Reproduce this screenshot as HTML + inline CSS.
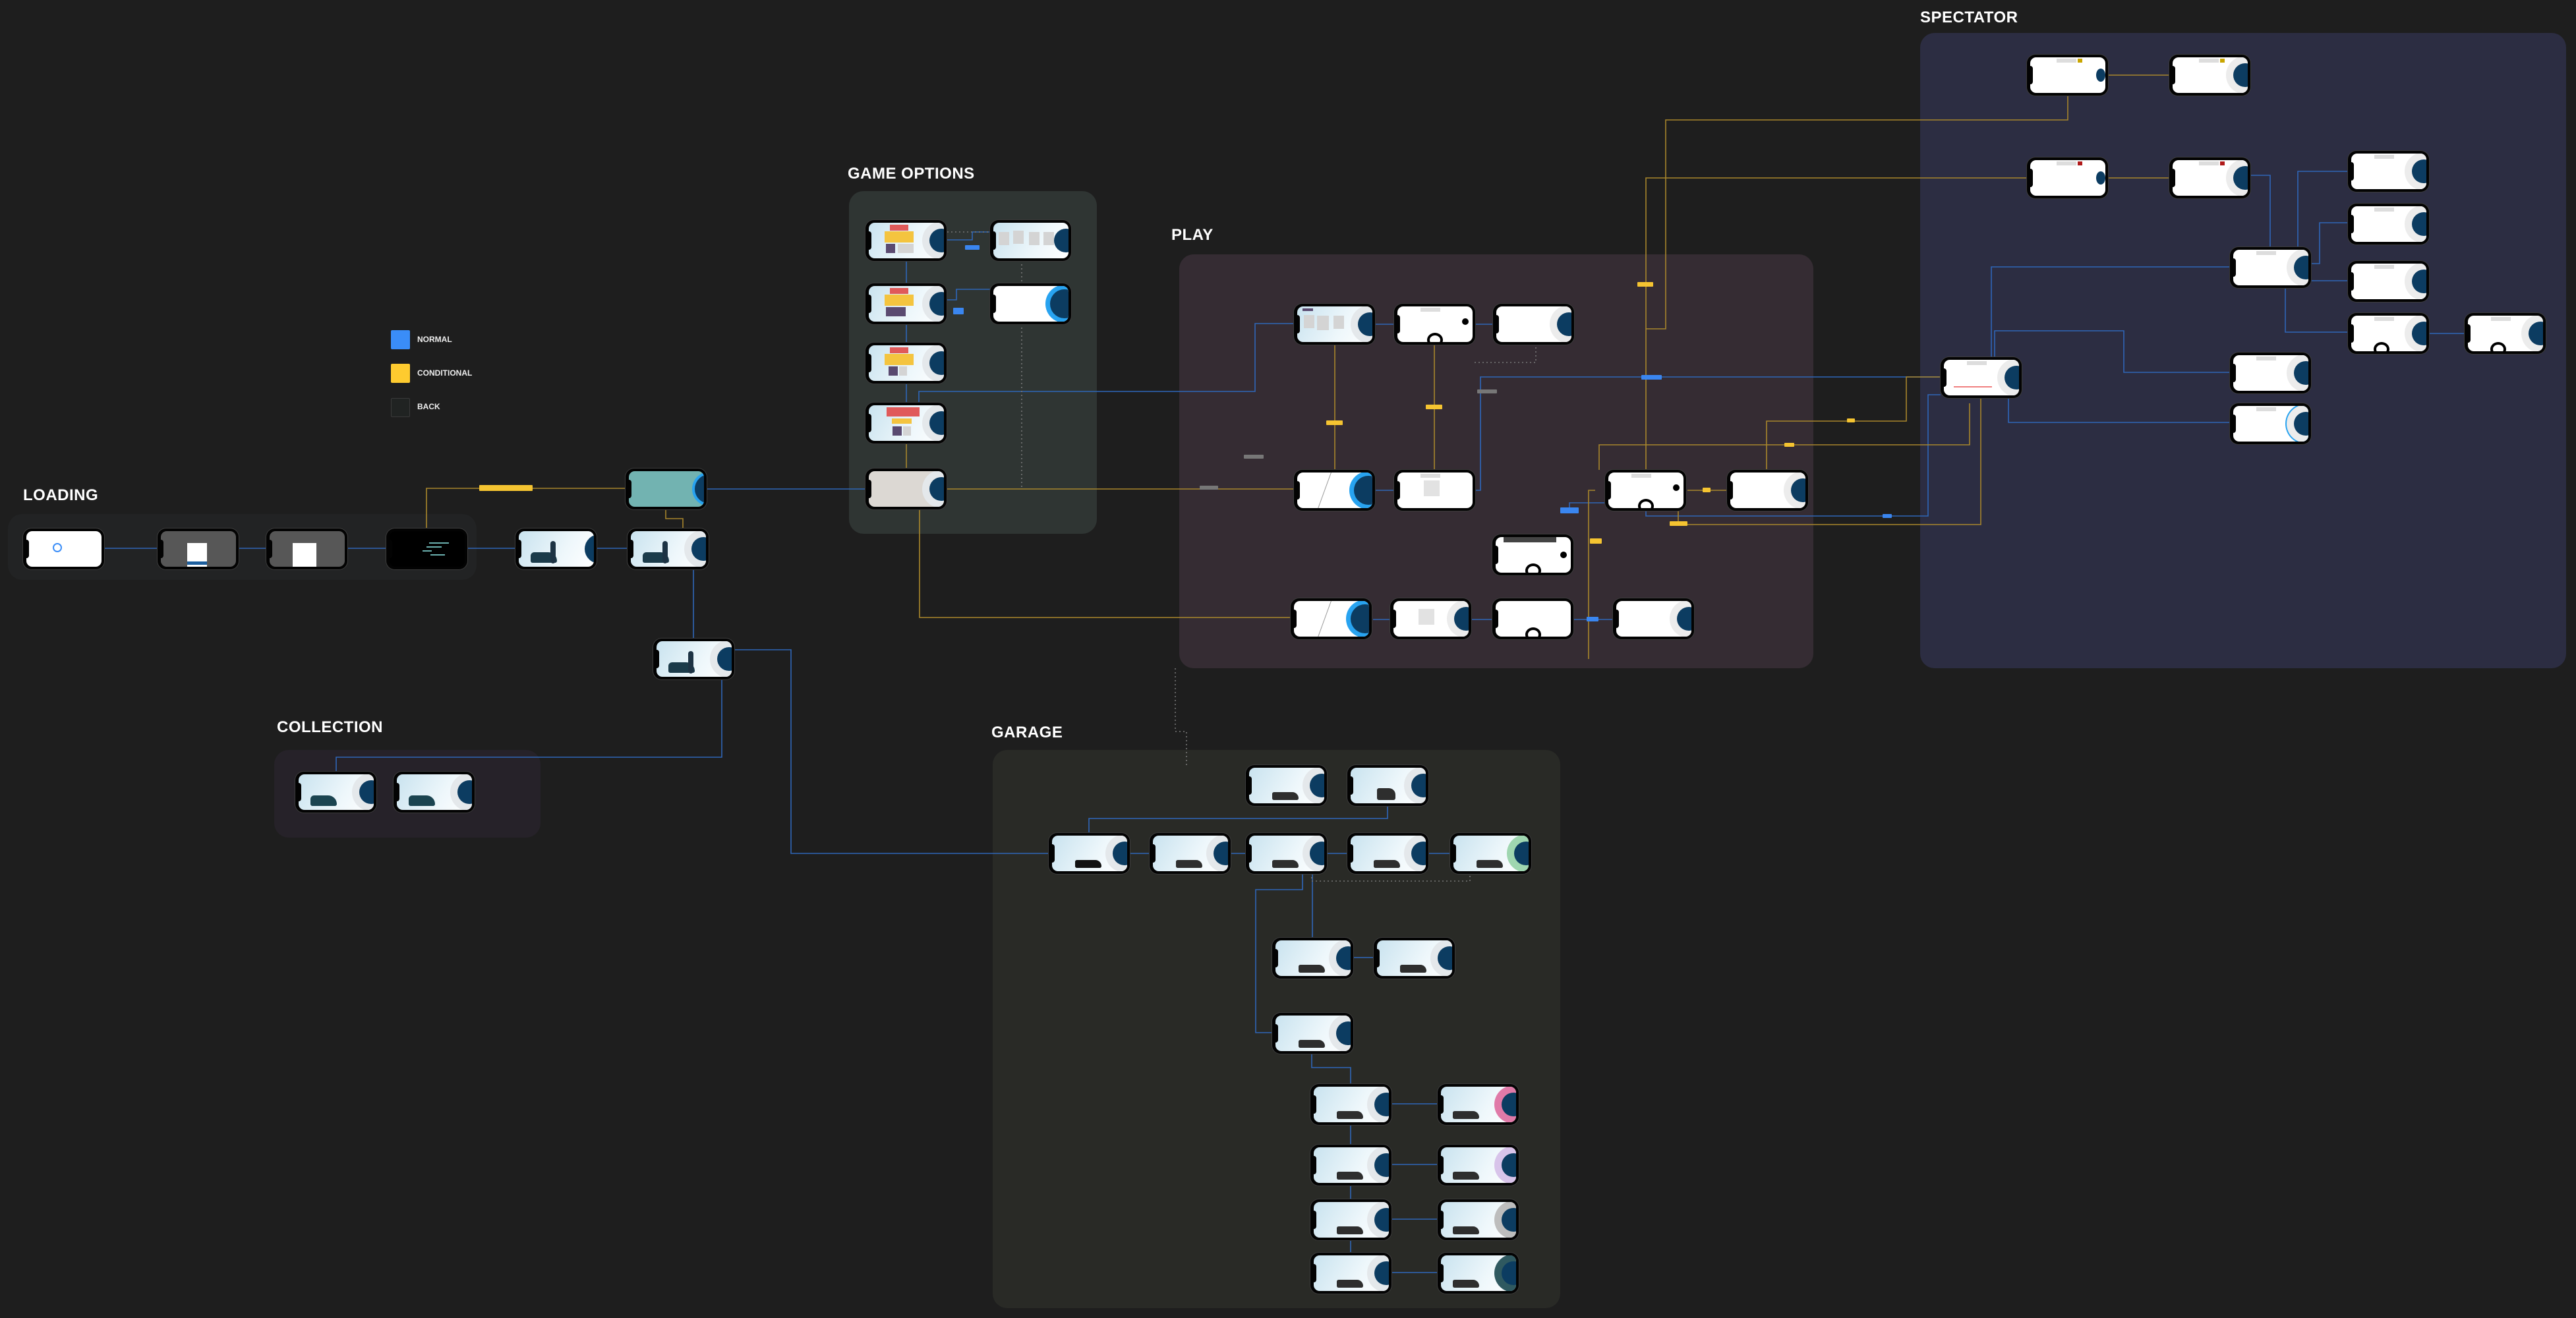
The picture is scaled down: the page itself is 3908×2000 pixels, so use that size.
<!DOCTYPE html>
<html><head><meta charset="utf-8">
<style>
*{margin:0;padding:0;box-sizing:border-box}
html,body{width:3908px;height:2000px;background:#1e1e1e;overflow:hidden;font-family:"Liberation Sans",sans-serif}
.grp{position:absolute;border-radius:22px}
.ttl{position:absolute;color:#fff;font-weight:bold;font-size:24px;letter-spacing:0.5px}
.p{position:absolute;width:123px;height:62px;background:#030303;border-radius:13px;box-shadow:0 0 0 1px #3c3c3c;z-index:3}
.p .s{position:absolute;left:5px;top:4px;right:4px;bottom:4px;border-radius:9px;background:#fff;overflow:hidden}
.p .n{position:absolute;left:4px;top:17px;width:5px;height:28px;background:#030303;border-radius:0 4px 4px 0;z-index:2}
.lb{background:linear-gradient(120deg,#c9e3ef,#eef7fb 60%,#fff)!important}
.g{background:#575757!important}.k{background:#000!important}.t{background:#72b3b1!important}.bg{background:#dcd8d3!important}
.d{position:absolute;right:-14px;top:50%;width:36px;height:36px;margin-top:-18px;border-radius:50%;background:#0c3c61;box-shadow:0 0 0 11px #e4e8eb}
.bc{position:absolute;right:-16px;top:50%;width:44px;height:44px;margin-top:-22px;border-radius:50%;background:#0c3c61;box-shadow:0 0 0 7px #28a3f0}
.eye{position:absolute;left:50%;bottom:-8px;width:24px;height:22px;margin-left:-12px;border-radius:50%;border:4px solid #000;background:#fff}
.fig{position:absolute;left:18px;bottom:6px;width:40px;height:16px;background:#1b3b4a;border-radius:6px 14px 3px 3px}
.fig2{position:absolute;left:48px;bottom:5px;width:8px;height:34px;background:#1d3344;border-radius:4px}
.car{position:absolute;left:35px;bottom:5px;width:40px;height:12px;background:#2e2e2e;border-radius:3px 10px 3px 3px}
.red{position:absolute;left:32px;top:3px;width:28px;height:9px;background:#e05a5a}
.yel{position:absolute;left:24px;top:13px;width:44px;height:17px;background:#f4c43f}
.pur{position:absolute;left:26px;top:32px;width:14px;height:14px;background:#5a4a70}
.gry{position:absolute;left:44px;top:32px;width:24px;height:14px;background:#d4d4d4}
.card{position:absolute;left:40px;top:18px;width:30px;height:36px;background:#fff}
.tab{position:absolute;left:35px;top:2px;width:30px;height:6px;background:#ddd}
.ln{position:absolute;height:2px;background:#6ab0ae}
.lab{position:absolute;height:9px;font-size:4px;color:#fff;line-height:9px;text-align:center;border-radius:1px;z-index:4}
.ly{background:#f5c431}.lbl{background:#3a86f0}.lg{background:#777}
.leg{position:absolute;width:29px;height:29px;border-radius:2px}
.legt{position:absolute;color:#eee;font-weight:bold;font-size:12px}
svg{position:absolute;left:0;top:0;z-index:2}
</style></head><body>

<!-- groups -->
<div class="grp" style="left:12px;top:780px;width:711px;height:100px;background:#222324"></div>
<div class="grp" style="left:1288px;top:290px;width:376px;height:520px;background:#2f3533"></div>
<div class="grp" style="left:1789px;top:386px;width:962px;height:628px;background:#352c33"></div>
<div class="grp" style="left:2913px;top:50px;width:980px;height:964px;background:#2c2d42"></div>
<div class="grp" style="left:1506px;top:1138px;width:861px;height:847px;background:#292a26"></div>
<div class="grp" style="left:416px;top:1138px;width:404px;height:133px;background:#262229"></div>

<div class="ttl" style="left:35px;top:738px">LOADING</div>
<div class="ttl" style="left:1286px;top:250px">GAME OPTIONS</div>
<div class="ttl" style="left:1777px;top:343px">PLAY</div>
<div class="ttl" style="left:2913px;top:13px">SPECTATOR</div>
<div class="ttl" style="left:1504px;top:1098px">GARAGE</div>
<div class="ttl" style="left:420px;top:1090px">COLLECTION</div>

<div class="leg" style="left:593px;top:501px;background:#3a8df8"></div><div class="legt" style="left:633px;top:508px">NORMAL</div>
<div class="leg" style="left:593px;top:552px;background:#fecb2f"></div><div class="legt" style="left:633px;top:559px">CONDITIONAL</div>
<div class="leg" style="left:593px;top:604px;background:#202322;border:1px solid #3a3a3a"></div><div class="legt" style="left:633px;top:610px">BACK</div>

<svg width="3908" height="2000" fill="none" stroke-width="1.6">
<g stroke="#2f66b8">
<path d="M157 832H239M361 832H404M526 832H586M708 832H782M904 832H952"/>
<path d="M1072 742H1313M1052 864V969"/>
<path d="M1375 396V430M1375 491V520M1375 580V611"/>
<path d="M1437 364H1475V352H1502M1367 455H1451V439H1502"/>
<path d="M1394 627V594H1904V491H1963"/>
<path d="M2087 492H2115M2237 492H2265M2087 744H2115M2083 940H2111M2233 940H2265M2387 940H2450"/>
<path d="M2237 744H2246V572H2944"/>
<path d="M2497 775V783H2925V599H2944"/>
<path d="M2440 763H2381V775"/>
<path d="M3047 604V641H3383"/>
<path d="M3021 604V405H3383M3026 579V502H3222V565H3383"/>
<path d="M3391 266H3444V375M3480 390H3486V260H3562M3497 400H3519V338H3562M3494 426H3562M3480 412H3467V504H3562M3685 506H3739"/>
<path d="M1097 986H1200V1295H1591M1095 1027V1149H510V1171"/>
<path d="M2105 1222V1242H1652V1264M1715 1295H1744M1866 1295H1890M2013 1295H2044M2167 1295H2200"/>
<path d="M1991 1325V1423M1976 1325V1350H1905V1567H1930M2052 1453H2084M1990 1599V1620H2049V1645"/>
<path d="M2049 1707V1737M2049 1799V1820M2049 1882V1901M2111 1675H2181M2111 1767H2181M2111 1850H2181M2111 1931H2181"/>
</g>
<g stroke="#a8862c">
<path d="M647 802V741H949M1010 773V787H1036V802"/>
<path d="M1375 673V711M1437 742H1963M1395 742V937H1961"/>
<path d="M2025 523V713M2176 523V713"/>
<path d="M2560 744H2620"/>
<path d="M2497 713V270H3075M2497 499H2527V182H3137V145"/>
<path d="M2680 713V639H2892V572H2944"/>
<path d="M2426 713V675H2988V612"/>
<path d="M2546 775V796H3005V604"/>
<path d="M2420 744H2410V1000"/>
<path d="M3198 114H3291M3198 270H3291"/>
</g>
<g stroke="#777" stroke-dasharray="2 4">
<path d="M1437 352H1550V742M2237 550H2330V490M1783 1014V1110H1800V1161M2241 1110H2241"/>
<path d="M1990 1325V1337H2230V1325"/>
</g>
</svg>

<div class="lab ly" style="left:727px;top:736px;width:81px"></div>
<div class="lab lbl" style="left:1464px;top:372px;width:22px;height:7px"></div>
<div class="lab lbl" style="left:1446px;top:467px;width:16px;height:10px"></div>
<div class="lab lg" style="left:1820px;top:737px;width:28px;height:6px"></div>
<div class="lab lg" style="left:1887px;top:690px;width:30px;height:6px"></div>
<div class="lab lg" style="left:2241px;top:591px;width:30px;height:6px"></div>
<div class="lab ly" style="left:2012px;top:638px;width:25px;height:7px"></div>
<div class="lab ly" style="left:2163px;top:614px;width:25px;height:7px"></div>
<div class="lab lbl" style="left:2490px;top:569px;width:31px;height:7px"></div>
<div class="lab ly" style="left:2484px;top:428px;width:24px;height:7px"></div>
<div class="lab ly" style="left:2707px;top:672px;width:15px;height:6px"></div>
<div class="lab ly" style="left:2802px;top:635px;width:12px;height:6px"></div>
<div class="lab ly" style="left:2583px;top:740px;width:12px;height:7px"></div>
<div class="lab lbl" style="left:2367px;top:770px;width:28px;height:9px"></div>
<div class="lab ly" style="left:2533px;top:791px;width:27px;height:7px"></div>
<div class="lab lbl" style="left:2856px;top:780px;width:14px;height:6px"></div>
<div class="lab ly" style="left:2412px;top:817px;width:18px;height:8px"></div>
<div class="lab lbl" style="left:2407px;top:936px;width:18px;height:7px"></div>

<!-- LOADING -->
<div class="p" style="left:35px;top:802px"><i class="s"><b style="position:absolute;left:40px;top:18px;width:14px;height:14px;border:2px solid #3a8df8;border-radius:50%"></b></i><i class="n"></i></div>
<div class="p" style="left:239px;top:802px"><i class="s g"><b class="card"></b><b style="position:absolute;left:40px;top:46px;width:30px;height:5px;background:#1d5f9e"></b></i><i class="n"></i></div>
<div class="p" style="left:404px;top:802px"><i class="s g"><b class="card" style="left:35px;width:36px"></b></i><i class="n"></i></div>
<div class="p" style="left:586px;top:802px"><i class="s k"><b class="ln" style="left:60px;top:17px;width:30px"></b><b class="ln" style="left:56px;top:23px;width:23px"></b><b class="ln" style="left:50px;top:29px;width:14px"></b><b class="ln" style="left:62px;top:35px;width:22px"></b></i><i class="n"></i></div>
<div class="p" style="left:782px;top:802px"><i class="s lb"><b class="fig"></b><b class="fig2"></b><b class="bc" style="box-shadow:none;right:-30px"></b></i><i class="n"></i></div>
<div class="p" style="left:952px;top:802px"><i class="s lb"><b class="fig"></b><b class="fig2"></b><b class="d"></b></i><i class="n"></i></div>
<div class="p" style="left:949px;top:711px"><i class="s t"><b class="bc" style="box-shadow:0 0 0 4px #28a3f0;right:-30px"></b></i><i class="n"></i></div>
<div class="p" style="left:991px;top:969px"><i class="s lb"><b class="fig"></b><b class="fig2"></b><b class="d"></b></i><i class="n"></i></div>

<!-- GAME OPTIONS -->
<div class="p" style="left:1313px;top:334px"><i class="s lb"><b class="red"></b><b class="yel"></b><b class="pur"></b><b class="gry"></b><b class="d"></b></i><i class="n"></i></div>
<div class="p" style="left:1313px;top:430px"><i class="s lb"><b class="red"></b><b class="yel"></b><b class="pur" style="width:30px"></b><b class="d"></b></i><i class="n"></i></div>
<div class="p" style="left:1313px;top:520px"><i class="s lb"><b class="red"></b><b class="yel"></b><b class="pur" style="left:30px"></b><b class="gry" style="left:46px;width:12px"></b><b class="d"></b></i><i class="n"></i></div>
<div class="p" style="left:1313px;top:611px"><i class="s lb"><b class="red" style="left:27px;width:50px;height:14px"></b><b class="yel" style="left:35px;top:20px;width:30px;height:8px"></b><b class="pur" style="left:36px"></b><b class="gry" style="left:52px;width:12px"></b><b class="d"></b></i><i class="n"></i></div>
<div class="p" style="left:1313px;top:711px"><i class="s bg"><b class="d"></b></i><i class="n"></i></div>
<div class="p" style="left:1502px;top:334px"><i class="s lb"><b class="gry" style="left:8px;top:14px;width:16px;height:20px"></b><b class="gry" style="left:30px;top:12px;width:16px;height:20px"></b><b class="gry" style="left:54px;top:14px;width:16px;height:20px"></b><b class="gry" style="left:76px;top:14px;width:16px;height:20px"></b><b class="d" style="box-shadow:none"></b></i><i class="n"></i></div>
<div class="p" style="left:1502px;top:430px"><i class="s"><b class="bc"></b></i><i class="n"></i></div>

<!-- PLAY -->
<div class="p" style="left:1963px;top:461px"><i class="s lb"><b class="gry" style="left:10px;top:13px;width:16px;height:20px"></b><b class="gry" style="left:30px;top:14px;width:18px;height:22px"></b><b class="gry" style="left:55px;top:14px;width:16px;height:20px"></b><b class="pur" style="left:8px;top:3px;width:16px;height:4px"></b><b class="d"></b></i><i class="n"></i></div>
<div class="p" style="left:2115px;top:461px"><i class="s"><b class="tab"></b><b class="eye"></b><b style="position:absolute;right:6px;top:18px;width:10px;height:10px;border-radius:50%;background:#000"></b></i><i class="n"></i></div>
<div class="p" style="left:2265px;top:461px"><i class="s"><b class="d" style="background:#0c3c61;box-shadow:0 0 0 11px #ececec"></b></i><i class="n"></i></div>
<div class="p" style="left:1963px;top:713px"><i class="s"><b style="position:absolute;left:40px;top:-5px;width:1px;height:70px;background:#999;transform:rotate(20deg)"></b><b class="bc"></b></i><i class="n"></i></div>
<div class="p" style="left:2115px;top:713px"><i class="s"><b class="gry" style="left:40px;top:12px;width:24px;height:24px;background:#e2e2e2"></b><b class="tab"></b></i><i class="n"></i></div>
<div class="p" style="left:2435px;top:713px"><i class="s"><b class="tab"></b><b class="eye"></b><b style="position:absolute;right:6px;top:18px;width:10px;height:10px;border-radius:50%;background:#000"></b></i><i class="n"></i></div>
<div class="p" style="left:2620px;top:713px"><i class="s"><b class="d" style="box-shadow:0 0 0 11px #ececec"></b></i><i class="n"></i></div>
<div class="p" style="left:2264px;top:811px"><i class="s"><b style="position:absolute;left:12px;top:0;width:80px;height:8px;background:#444"></b><b class="eye"></b><b style="position:absolute;right:6px;top:22px;width:10px;height:10px;border-radius:50%;background:#000"></b></i><i class="n"></i></div>
<div class="p" style="left:1958px;top:908px"><i class="s"><b style="position:absolute;left:45px;top:-5px;width:1px;height:70px;background:#999;transform:rotate(20deg)"></b><b class="bc"></b></i><i class="n"></i></div>
<div class="p" style="left:2109px;top:908px"><i class="s"><b class="gry" style="left:38px;top:12px;width:24px;height:24px;background:#e2e2e2"></b><b class="d" style="box-shadow:0 0 0 11px #ececec"></b></i><i class="n"></i></div>
<div class="p" style="left:2264px;top:908px"><i class="s"><b class="eye"></b></i><i class="n"></i></div>
<div class="p" style="left:2447px;top:908px"><i class="s"><b class="d" style="box-shadow:0 0 0 11px #ececec"></b></i><i class="n"></i></div>

<!-- SPECTATOR -->
<div class="p" style="left:3075px;top:83px"><i class="s"><b class="tab" style="left:40px"></b><b class="tab" style="left:72px;width:7px;background:#c9a500"></b><b class="d" style="box-shadow:none;width:14px;height:20px;margin-top:-10px;right:0"></b></i><i class="n"></i></div>
<div class="p" style="left:3291px;top:83px"><i class="s"><b class="tab" style="left:40px"></b><b class="tab" style="left:72px;width:7px;background:#c9a500"></b><b class="d" style="box-shadow:0 0 0 11px #ececec"></b></i><i class="n"></i></div>
<div class="p" style="left:3075px;top:239px"><i class="s"><b class="tab" style="left:40px"></b><b class="tab" style="left:72px;width:7px;background:#b01a1a"></b><b class="d" style="box-shadow:none;width:14px;height:20px;margin-top:-10px;right:0"></b></i><i class="n"></i></div>
<div class="p" style="left:3291px;top:239px"><i class="s"><b class="tab" style="left:40px"></b><b class="tab" style="left:72px;width:7px;background:#b01a1a"></b><b class="d" style="box-shadow:0 0 0 11px #ececec"></b></i><i class="n"></i></div>
<div class="p" style="left:3562px;top:229px"><i class="s"><b class="tab" style="left:35px"></b><b class="d" style="box-shadow:0 0 0 11px #ececec"></b></i><i class="n"></i></div>
<div class="p" style="left:3562px;top:309px"><i class="s"><b class="tab" style="left:35px"></b><b class="d" style="box-shadow:0 0 0 11px #ececec"></b></i><i class="n"></i></div>
<div class="p" style="left:3383px;top:375px"><i class="s"><b class="tab" style="left:35px"></b><b class="d" style="box-shadow:0 0 0 11px #ececec"></b></i><i class="n"></i></div>
<div class="p" style="left:3562px;top:396px"><i class="s"><b class="tab" style="left:35px"></b><b class="d" style="box-shadow:0 0 0 11px #ececec"></b></i><i class="n"></i></div>
<div class="p" style="left:3562px;top:475px"><i class="s"><b class="tab" style="left:35px"></b><b class="eye" style="left:40%"></b><b class="d" style="box-shadow:0 0 0 11px #ececec"></b></i><i class="n"></i></div>
<div class="p" style="left:3739px;top:475px"><i class="s"><b class="tab" style="left:35px"></b><b class="eye" style="left:40%"></b><b class="d" style="box-shadow:0 0 0 11px #ececec"></b></i><i class="n"></i></div>
<div class="p" style="left:2944px;top:542px"><i class="s"><b class="tab" style="left:35px"></b><b style="position:absolute;left:15px;top:40px;width:58px;height:2px;background:#f08080"></b><b class="d" style="box-shadow:0 0 0 11px #ececec"></b></i><i class="n"></i></div>
<div class="p" style="left:3383px;top:535px"><i class="s"><b class="tab" style="left:35px"></b><b class="d" style="box-shadow:0 0 0 11px #ececec"></b></i><i class="n"></i></div>
<div class="p" style="left:3383px;top:612px"><i class="s"><b class="tab" style="left:35px"></b><b class="d" style="box-shadow:0 0 0 11px #ececec,0 0 0 13px #28a3f0"></b></i><i class="n"></i></div>

<!-- GARAGE -->
<div class="p" style="left:1890px;top:1161px"><i class="s lb"><b class="car"></b><b class="d"></b></i><i class="n"></i></div>
<div class="p" style="left:2044px;top:1161px"><i class="s lb"><b class="car" style="height:18px;width:28px;left:40px"></b><b class="d"></b></i><i class="n"></i></div>
<div class="p" style="left:1591px;top:1264px"><i class="s lb"><b class="car" style="background:#111"></b><b class="d"></b></i><i class="n"></i></div>
<div class="p" style="left:1744px;top:1264px"><i class="s lb"><b class="car"></b><b class="d"></b></i><i class="n"></i></div>
<div class="p" style="left:1890px;top:1264px"><i class="s lb"><b class="car"></b><b class="d"></b></i><i class="n"></i></div>
<div class="p" style="left:2044px;top:1264px"><i class="s lb"><b class="car"></b><b class="d"></b></i><i class="n"></i></div>
<div class="p" style="left:2200px;top:1264px"><i class="s lb"><b class="car"></b><b class="d" style="box-shadow:0 0 0 11px #9fd6b0"></b></i><i class="n"></i></div>
<div class="p" style="left:1930px;top:1423px"><i class="s lb"><b class="car"></b><b class="d"></b></i><i class="n"></i></div>
<div class="p" style="left:2084px;top:1423px"><i class="s lb"><b class="car"></b><b class="d"></b></i><i class="n"></i></div>
<div class="p" style="left:1930px;top:1537px"><i class="s lb"><b class="car"></b><b class="d"></b></i><i class="n"></i></div>
<div class="p" style="left:1988px;top:1645px"><i class="s lb"><b class="car"></b><b class="d"></b></i><i class="n"></i></div>
<div class="p" style="left:2181px;top:1645px"><i class="s lb"><b class="car" style="left:18px"></b><b class="d" style="box-shadow:0 0 0 11px #e07aa8"></b></i><i class="n"></i></div>
<div class="p" style="left:1988px;top:1737px"><i class="s lb"><b class="car"></b><b class="d"></b></i><i class="n"></i></div>
<div class="p" style="left:2181px;top:1737px"><i class="s lb"><b class="car" style="left:18px"></b><b class="d" style="box-shadow:0 0 0 11px #d8c4ea"></b></i><i class="n"></i></div>
<div class="p" style="left:1988px;top:1820px"><i class="s lb"><b class="car"></b><b class="d"></b></i><i class="n"></i></div>
<div class="p" style="left:2181px;top:1820px"><i class="s lb"><b class="car" style="left:18px"></b><b class="d" style="box-shadow:0 0 0 11px #bdbdbd"></b></i><i class="n"></i></div>
<div class="p" style="left:1988px;top:1901px"><i class="s lb"><b class="car"></b><b class="d"></b></i><i class="n"></i></div>
<div class="p" style="left:2181px;top:1901px"><i class="s lb"><b class="car" style="left:18px"></b><b class="d" style="box-shadow:0 0 0 11px #2f5960"></b></i><i class="n"></i></div>

<!-- COLLECTION -->
<div class="p" style="left:448px;top:1171px"><i class="s lb"><b class="fig" style="background:#1b4450"></b><b class="d"></b></i><i class="n"></i></div>
<div class="p" style="left:597px;top:1171px"><i class="s lb"><b class="fig" style="background:#1b4450"></b><b class="d"></b></i><i class="n"></i></div>

</body></html>
